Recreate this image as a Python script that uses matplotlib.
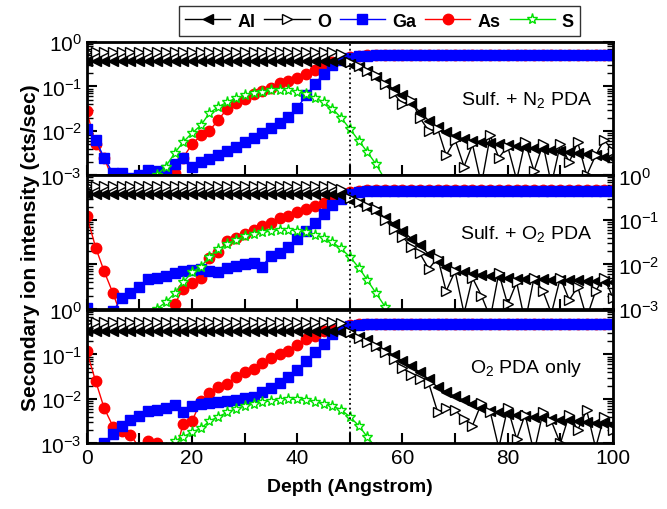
import numpy as np
import matplotlib.pyplot as plt
from matplotlib.ticker import LogLocator, MultipleLocator, NullFormatter

plt.rcParams['font.family'] = ['Liberation Sans', 'DejaVu Sans']
plt.rcParams['mathtext.fontset'] = 'custom'
plt.rcParams['mathtext.rm'] = 'Liberation Sans'
plt.rcParams['mathtext.it'] = 'Liberation Sans:italic'
plt.rcParams['mathtext.bf'] = 'Liberation Sans:bold'

# depth points (Angstrom)
depth = [0, 1.7, 3.3, 5, 6.7, 8.3, 10, 11.7, 13.3, 15,
         16.7, 18.3, 20, 21.7, 23.3, 25, 26.7, 28.3, 30, 31.7,
         33.3, 35, 36.7, 38.3, 40, 41.7, 43.3, 45, 46.7, 48.3,
         50, 51.7, 53.3, 55, 56.7, 58.3, 60, 61.7, 63.3, 65,
         66.7, 68.3, 70, 71.7, 73.3, 75, 76.7, 78.3, 80, 81.7,
         83.3, 85, 86.7, 88.3, 90, 91.7, 93.3, 95, 96.7, 98.3, 100]

# log10 of intensity, panel 1: Sulf. + N2 PDA
al_n2 = [-0.43] * 29 + [-0.44, -0.49, -0.57, -0.66, -0.78, -0.93, -1.06, -1.2, -1.38, -1.57, -1.77,
                        -1.92, -2.03, -2.12, -2.18, -2.22, -2.24, -2.28, -2.3, -2.32, -2.33,
                        -2.36, -2.38, -2.4, -2.42, -2.44, -2.47, -2.5, -2.52, -2.55, -2.58, -2.6]
o_n2 = [-0.22] * 29 + [-0.28, -0.45, -0.55, -0.65, -0.75, -0.95, -1.15, -1.4, -1.3, -1.7, -2.0,
                       -1.95, -2.55, -2.2, -2.8, -2.3, -3.2, -2.1, -2.6, -2.35, -3.1,
                       -2.25, -2.9, -2.3, -3.2, -2.3, -2.7, -2.25, -3.0, -2.55, -2.2, -2.45]
ga_n2 = [-1.95, -2.2, -2.6, -2.95, -2.95, -3.05, -2.98, -2.88, -2.9, -2.88,
         -2.75, -2.6, -2.8, -2.7, -2.62, -2.54, -2.45, -2.35, -2.25, -2.15,
         -2.05, -1.93, -1.82, -1.68, -1.48, -1.2, -0.95, -0.72, -0.52, -0.4,
         -0.35, -0.32, -0.31] + [-0.3] * 28
as_n2 = [-1.55, -2.3, -2.6, -3.1, -3.3, -3.4, -3.3, -3.2, -3.1, -3.2,
         -2.95, -2.6, -2.3, -2.1, -2.0, -1.75, -1.5, -1.38, -1.28, -1.17,
         -1.1, -1.03, -0.93, -0.88, -0.8, -0.72, -0.62, -0.53, -0.45, -0.38,
         -0.33, -0.31] + [-0.3] * 29
s_n2 = [-3.6] * 7 + [-3.3, -3.0, -2.8, -2.5, -2.25, -2.05, -1.87, -1.6, -1.46, -1.35, -1.27, -1.2, -1.15,
                     -1.12, -1.09, -1.07, -1.08, -1.12, -1.17, -1.25, -1.35, -1.5, -1.7,
                     -1.95, -2.22, -2.47, -2.75, -3.1, -3.4] + [-3.6] * 25

# panel 2: Sulf. + O2 PDA
al_o2 = [-0.41] * 29 + [-0.45, -0.55, -0.61, -0.7, -0.8, -0.95, -1.08, -1.25, -1.42, -1.57, -1.77,
                        -1.93, -2.05, -2.13, -2.18, -2.21, -2.23, -2.27, -2.29, -2.3, -2.32,
                        -2.33, -2.34, -2.33, -2.34, -2.35, -2.35, -2.36, -2.37, -2.37, -2.38, -2.4]
o_o2 = [-0.23] * 29 + [-0.3, -0.5, -0.6, -0.68, -0.75, -1.0, -1.2, -1.38, -1.6, -1.75, -2.1,
                       -1.85, -2.6, -2.15, -3.1, -2.3, -2.7, -3.2, -2.2, -2.9, -2.4,
                       -3.3, -2.3, -2.6, -3.1, -2.3, -2.8, -2.5, -3.2, -2.6, -2.3, -2.75]
ga_o2 = [-2.97, -3.2, -3.3, -3.05, -2.75, -2.65, -2.5, -2.32, -2.3, -2.27,
         -2.2, -2.15, -2.12, -2.1, -2.14, -2.18, -2.08, -2.03, -2.0, -1.97,
         -2.05, -1.8, -1.74, -1.6, -1.43, -1.25, -1.07, -0.86, -0.66, -0.52,
         -0.42, -0.37, -0.35] + [-0.34] * 28
as_o2 = [-0.9, -1.62, -2.15, -2.65, -3.2, -3.5, -3.2, -3.6, -3.3, -3.4,
         -2.9, -2.55, -2.42, -2.3, -1.85, -1.72, -1.48, -1.4, -1.32, -1.23,
         -1.14, -1.07, -0.96, -0.9, -0.83, -0.76, -0.69, -0.61, -0.52, -0.45,
         -0.38, -0.35] + [-0.33] * 29
s_o2 = [-3.6] * 7 + [-3.2, -3.0, -2.85, -2.65, -2.4, -2.18, -2.05, -1.83, -1.66, -1.54, -1.44, -1.37, -1.32,
                     -1.28, -1.25, -1.22, -1.22, -1.24, -1.28, -1.33, -1.4, -1.5, -1.64,
                     -1.83, -2.07, -2.35, -2.65, -2.95, -3.3] + [-3.6] * 25

# panel 3: O2 PDA only
al_o = [-0.48] * 29 + [-0.5, -0.53, -0.6, -0.68, -0.8, -0.9, -1.02, -1.15, -1.27, -1.4, -1.56,
                       -1.74, -1.85, -1.94, -2.03, -2.12, -2.2, -2.27, -2.3, -2.34, -2.37,
                       -2.38, -2.4, -2.42, -2.44, -2.47, -2.48, -2.5, -2.51, -2.53, -2.55, -2.56]
o_o = [-0.26] * 29 + [-0.3, -0.5, -0.62, -0.72, -0.8, -0.95, -1.1, -1.3, -1.45, -1.55, -1.65,
                      -2.3, -2.2, -2.25, -2.45, -2.6, -2.1, -2.3, -3.1, -2.2, -2.9,
                      -2.35, -3.2, -2.3, -2.5, -3.0, -2.35, -2.7, -2.25, -3.1, -2.4, -2.7]
ga_o = [-3.4, -3.2, -3.0, -2.78, -2.6, -2.47, -2.38, -2.28, -2.24, -2.2,
        -2.13, -2.3, -2.15, -2.12, -2.1, -2.06, -2.04, -2.02, -1.98, -1.95,
        -1.85, -1.75, -1.63, -1.5, -1.35, -1.15, -0.95, -0.76, -0.55, -0.43,
        -0.36, -0.33] + [-0.31] * 29
as_o = [-0.93, -1.6, -2.2, -2.62, -2.72, -2.8, -3.1, -2.95, -2.98, -3.4,
        -3.3, -2.56, -2.5, -2.05, -1.87, -1.72, -1.66, -1.5, -1.4, -1.33,
        -1.2, -1.08, -1.0, -0.92, -0.78, -0.66, -0.58, -0.47, -0.42, -0.38,
        -0.34] + [-0.32] * 30
s_o = [-3.6] * 9 + [-3.1, -2.95, -2.85, -2.75, -2.66, -2.5, -2.4, -2.3, -2.22, -2.16, -2.11,
                    -2.07, -2.04, -2.02, -2.0, -2.01, -2.03, -2.06, -2.11, -2.16, -2.24,
                    -2.4, -2.6, -2.85, -3.1, -3.4] + [-3.6] * 26

panels = [
    ('Sulf. + N$_2$ PDA', al_n2, o_n2, ga_n2, as_n2, s_n2),
    ('Sulf. + O$_2$ PDA', al_o2, o_o2, ga_o2, as_o2, s_o2),
    ('O$_2$ PDA only', al_o, o_o, ga_o, as_o, s_o),
]

fig = plt.figure(figsize=(6.67, 5.1), dpi=100)
tops = [0.9157, 0.654, 0.3902]
h = 0.2617
axes = []
for i, (title, al, o, ga, ars, s) in enumerate(panels):
    ax = fig.add_axes([0.130, tops[i] - h, 0.789, h])
    axes.append(ax)
    ms = 7
    ax.plot(depth, 10 ** np.array(ars), color='red', marker='o', ms=ms + 0.5, lw=1, label='As')
    ax.plot(depth, 10 ** np.array(ga), color='blue', marker='s', ms=ms, lw=1, label='Ga')
    ax.plot(depth, 10 ** np.array(s), color='#00e000', marker='*', ms=ms + 1, mfc='white',
            mew=1, lw=1, label='S')
    ax.plot(depth, 10 ** np.array(al), color='black', marker='<', ms=ms, lw=1, label='Al')
    ax.plot(depth, 10 ** np.array(o), color='black', marker='>', ms=ms, mfc='white', lw=1, label='O')
    ax.axvline(50, color='black', ls=':', lw=1.3)
    ax.set_yscale('log')
    ax.set_ylim(1e-3, 1)
    ax.set_xlim(0, 100)
    ax.xaxis.set_major_locator(MultipleLocator(20))
    ax.xaxis.set_minor_locator(MultipleLocator(10))
    ax.yaxis.set_major_locator(LogLocator(base=10, numticks=10))
    ax.yaxis.set_minor_locator(LogLocator(base=10, subs=np.arange(2, 10), numticks=10))
    ax.yaxis.set_minor_formatter(NullFormatter())
    ax.tick_params(which='both', direction='in', left=True, right=True, top=False, bottom=True,
                   labelsize=15)
    ax.tick_params(which='major', length=7, width=1.5)
    ax.tick_params(which='minor', length=4, width=1)
    ax.tick_params(axis='x', which='minor', length=7, width=1.5)
    for sp in ax.spines.values():
        sp.set_linewidth(2)
    ax.text(83.5, 0.052 if i == 0 else 0.05, title, fontsize=14, ha='center', va='center')
    if i < 2:
        ax.tick_params(labelbottom=False)
    if i == 1:
        ax.tick_params(labelleft=False, labelright=True)

axes[2].set_xlabel('Depth (Angstrom)', fontsize=14, fontweight='bold', labelpad=8)
fig.text(0.045, 0.514, 'Secondary ion intensity (cts/sec)', rotation=90, fontsize=15,
         fontweight='bold', ha='center', va='center')

handles, labels = axes[0].get_legend_handles_labels()
order = [3, 4, 1, 0, 2]
fig.legend([handles[k] for k in order], [labels[k] for k in order], loc='upper center',
           bbox_to_anchor=(0.569, 1.003), ncol=5, frameon=True, fancybox=False,
           edgecolor='black', handlelength=2.5, handletextpad=0.4, columnspacing=0.5,
           borderpad=0.35, prop={'weight': 'bold', 'size': 13})

fig.savefig('out.png', dpi=100)
